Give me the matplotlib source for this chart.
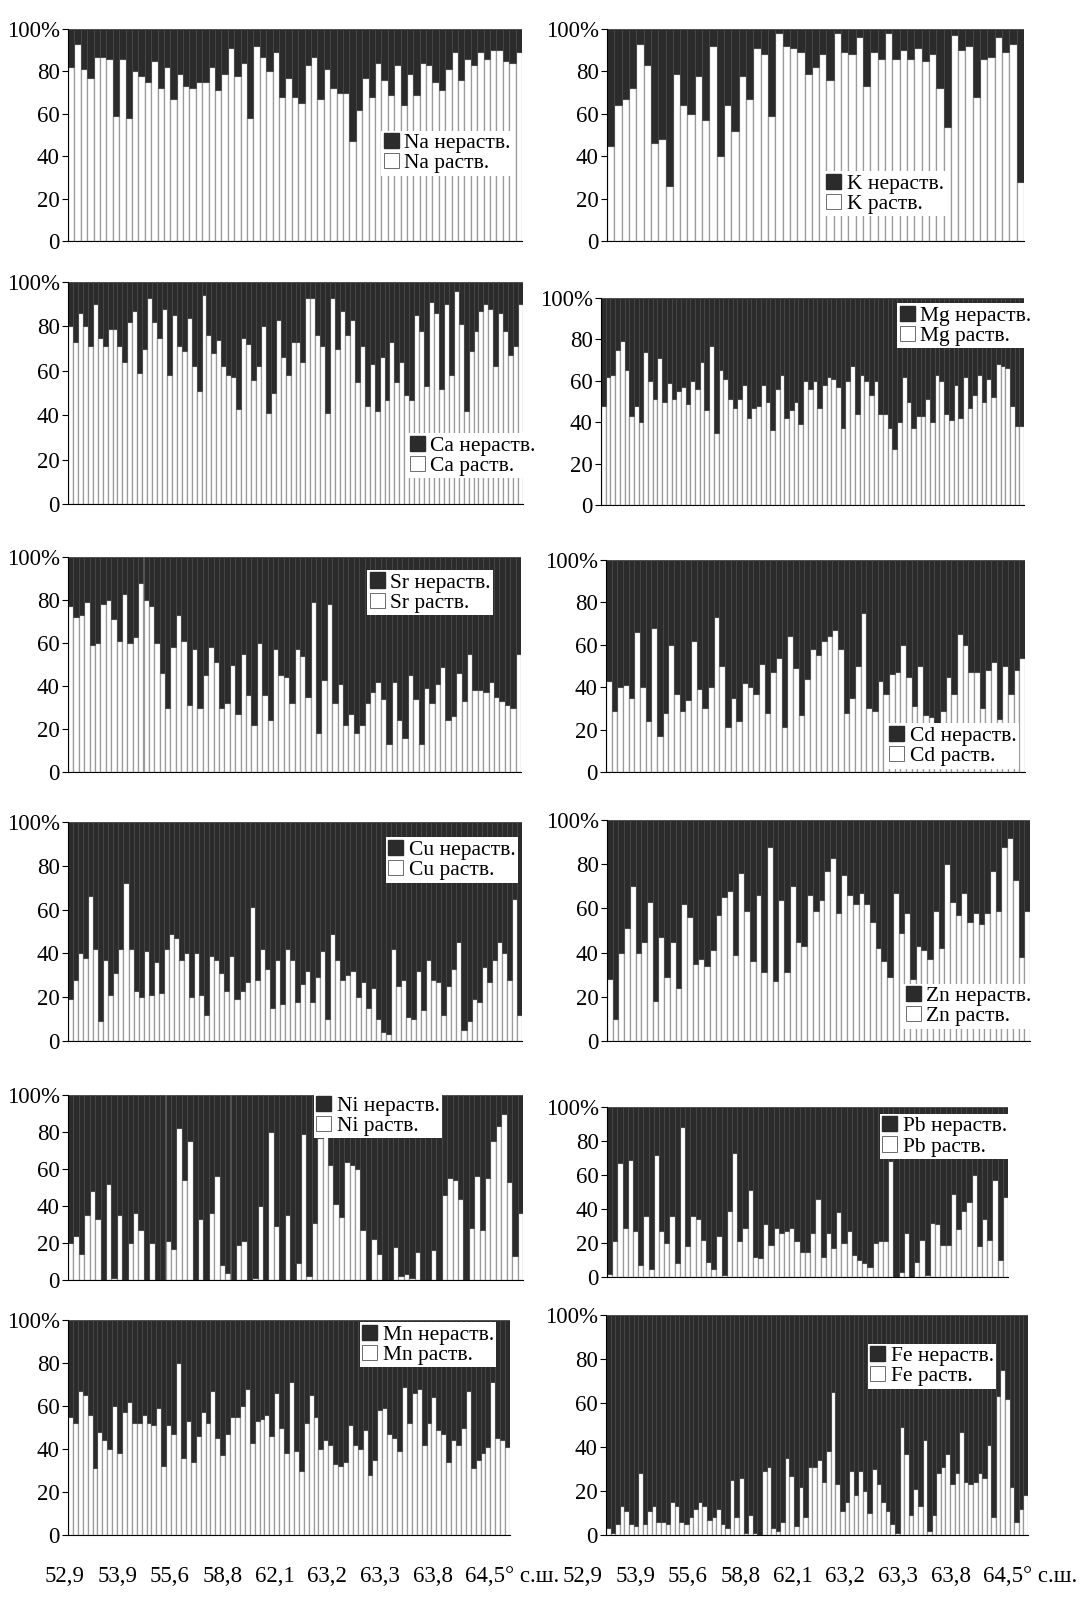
import numpy as np
import matplotlib
matplotlib.use('Agg')
import matplotlib.pyplot as plt
from matplotlib.patches import Patch

plt.rcParams['font.family'] = ['Liberation Serif', 'DejaVu Serif']

# soluble fraction, % of total (insoluble = remainder up to 100 %)
na_sol = [82, 93, 81, 77, 87, 87, 86, 59, 86, 58, 80, 78, 75, 85, 72, 82, 67, 79, 73, 72,
          75, 75, 82, 71, 79, 91, 78, 84, 58, 92, 87, 80, 89, 68, 77, 68, 65, 83, 87, 67,
          81, 72, 70, 70, 47, 62, 77, 68, 84, 76, 69, 83, 64, 79, 69, 84, 83, 75, 71, 81,
          89, 76, 86, 83, 89, 86, 90, 90, 85, 84, 89]
k_sol = [45, 64, 67, 72, 93, 83, 46, 48, 26, 79, 64, 60, 78, 57, 92, 40, 64, 52, 78, 67,
         91, 88, 59, 98, 92, 91, 89, 79, 82, 88, 76, 98, 89, 88, 96, 73, 89, 86, 98, 86,
         90, 86, 91, 85, 88, 72, 54, 97, 90, 92, 68, 86, 87, 96, 89, 93, 28]
ca_sol = [80, 73, 86, 80, 71, 90, 75, 71, 79, 79, 71, 64, 82, 87, 59, 70, 93, 82, 75, 88,
          58, 85, 71, 69, 84, 62, 51, 94, 76, 68, 74, 62, 58, 57, 43, 75, 72, 56, 62, 80,
          41, 50, 83, 66, 58, 73, 73, 64, 93, 93, 76, 71, 41, 93, 70, 87, 76, 83, 55, 71,
          44, 63, 42, 66, 47, 73, 55, 64, 49, 47, 85, 78, 53, 91, 86, 52, 90, 58, 96, 81,
          42, 69, 78, 87, 90, 88, 62, 86, 78, 67, 71, 90]
mg_sol = [48, 62, 63, 75, 79, 65, 43, 48, 40, 74, 60, 51, 71, 50, 59, 51, 55, 57, 49, 60,
          56, 69, 46, 77, 35, 65, 61, 51, 47, 51, 58, 42, 47, 48, 58, 50, 36, 56, 63, 42,
          46, 50, 39, 60, 56, 60, 47, 58, 62, 61, 57, 37, 60, 67, 44, 63, 60, 53, 60, 44,
          44, 37, 27, 40, 62, 50, 37, 43, 43, 51, 40, 63, 60, 44, 41, 58, 42, 62, 47, 53,
          63, 50, 61, 52, 68, 67, 66, 48, 38, 38]
sr_sol = [77, 72, 73, 79, 59, 60, 78, 80, 71, 61, 83, 60, 63, 88, 80, 77, 60, 46, 30, 58,
          73, 61, 31, 57, 30, 45, 58, 51, 30, 32, 50, 27, 55, 36, 22, 60, 36, 24, 57, 45,
          44, 32, 57, 54, 35, 79, 18, 43, 78, 32, 41, 22, 27, 18, 22, 32, 37, 42, 34, 13,
          42, 24, 16, 45, 34, 13, 39, 32, 41, 49, 24, 26, 46, 33, 55, 38, 38, 37, 42, 35,
          33, 31, 30, 55]
cd_sol = [43, 29, 40, 41, 35, 66, 40, 24, 68, 17, 28, 60, 37, 29, 34, 62, 39, 30, 40, 73,
          50, 21, 35, 24, 42, 40, 37, 51, 28, 47, 54, 21, 64, 49, 27, 44, 58, 55, 62, 64,
          67, 58, 28, 35, 50, 75, 30, 29, 43, 37, 46, 47, 60, 45, 31, 50, 27, 26, 23, 29,
          45, 37, 65, 60, 47, 47, 30, 48, 52, 25, 50, 37, 48, 54]
cu_sol = [19, 28, 40, 38, 66, 42, 9, 37, 21, 31, 42, 72, 42, 23, 20, 41, 21, 36, 22, 42,
          49, 47, 37, 40, 20, 40, 21, 12, 39, 37, 31, 23, 39, 19, 23, 27, 61, 28, 42, 33,
          15, 37, 17, 42, 37, 18, 26, 32, 18, 29, 41, 10, 49, 37, 28, 30, 32, 20, 27, 15,
          24, 10, 4, 3, 42, 25, 28, 11, 10, 32, 14, 37, 28, 27, 12, 25, 33, 45, 5, 9,
          19, 18, 34, 27, 37, 45, 40, 28, 65, 12]
zn_sol = [28, 10, 40, 51, 70, 40, 45, 63, 18, 47, 29, 45, 24, 62, 56, 35, 37, 34, 41, 57,
          65, 68, 39, 76, 59, 36, 66, 31, 88, 27, 64, 31, 70, 45, 43, 66, 59, 64, 77, 83,
          58, 75, 66, 62, 67, 62, 54, 42, 36, 29, 67, 49, 58, 28, 43, 41, 37, 59, 42, 80,
          63, 57, 67, 54, 58, 53, 58, 77, 59, 88, 92, 73, 38, 59]
ni_sol = [20, 24, 14, 35, 48, 33, 0, 52, 1, 35, 0, 20, 36, 27, 0, 20, 0, 0, 21, 17,
          82, 54, 75, 0, 33, 0, 36, 56, 8, 4, 0, 19, 21, 0, 1, 40, 0, 80, 29, 0,
          35, 0, 9, 79, 2, 31, 77, 78, 62, 41, 34, 64, 62, 60, 27, 0, 22, 14, 0, 0,
          18, 2, 3, 1, 15, 0, 0, 16, 0, 46, 55, 54, 44, 0, 28, 56, 27, 55, 75, 83,
          90, 53, 13, 36]
pb_sol = [2, 21, 67, 29, 69, 27, 7, 36, 5, 72, 27, 20, 36, 8, 88, 18, 36, 34, 22, 9,
          5, 24, 1, 39, 73, 21, 29, 51, 12, 11, 31, 19, 29, 26, 27, 29, 21, 15, 15, 26,
          46, 12, 26, 17, 38, 20, 27, 13, 10, 8, 6, 20, 21, 21, 68, 0, 3, 26, 0, 9,
          22, 1, 32, 31, 19, 19, 49, 28, 39, 44, 60, 18, 34, 22, 57, 10, 47]
mn_sol = [55, 52, 67, 65, 56, 31, 48, 44, 40, 60, 38, 57, 62, 52, 52, 56, 52, 51, 59, 32,
          51, 47, 80, 36, 53, 34, 46, 57, 52, 67, 45, 37, 47, 55, 55, 60, 68, 43, 53, 54,
          56, 46, 66, 50, 38, 71, 39, 30, 52, 65, 55, 40, 44, 42, 33, 32, 34, 51, 42, 40,
          49, 28, 35, 58, 59, 47, 45, 39, 69, 52, 66, 68, 42, 52, 64, 49, 47, 34, 44, 42,
          50, 67, 31, 35, 38, 41, 71, 45, 44, 41]
fe_sol = [3, 1, 5, 13, 11, 5, 4, 28, 5, 11, 13, 6, 6, 5, 15, 13, 6, 5, 8, 12,
          15, 13, 7, 8, 12, 5, 3, 25, 8, 26, 1, 9, 1, 0, 29, 31, 3, 2, 6, 35,
          27, 4, 22, 8, 31, 31, 34, 24, 38, 65, 23, 11, 15, 29, 18, 29, 20, 10, 30, 23,
          15, 11, 5, 1, 49, 37, 9, 21, 13, 43, 2, 9, 28, 31, 37, 23, 28, 47, 24, 23,
          24, 28, 26, 41, 8, 63, 75, 62, 22, 6, 12, 18]

y_ticks = [0, 20, 40, 60, 80, 100]
y_labels = ['0', '20', '40', '60', '80', '100%']
lat_labels = ['52,9', '53,9', '55,6', '58,8', '62,1', '63,2', '63,3', '63,8', '64,5° с.ш.']

W, H = 1089, 1618
fig = plt.figure(figsize=(W / 100, H / 100), dpi=100)


def px_axes(x0, x1, top, bottom):
    return fig.add_axes([x0 / W, 1 - bottom / H, (x1 - x0) / W, (bottom - top) / H])


# (element, data, axes box in px, legend anchor in axes fraction)
panels = [
    ('Na', na_sol, (68, 522, 29, 241), (0.69, 0.52)),
    ('K', k_sol, (607, 1024, 29, 241), (0.52, 0.33)),
    ('Ca', ca_sol, (68, 523, 282, 504), (0.745, 0.32)),
    ('Mg', mg_sol, (601, 1024, 298, 505), (0.70, 0.975)),
    ('Sr', sr_sol, (68, 521, 557, 772), (0.66, 0.94)),
    ('Cd', cd_sol, (606, 1025, 560, 772), (0.67, 0.23)),
    ('Cu', cu_sol, (68, 522, 822, 1041), (0.70, 0.93)),
    ('Zn', zn_sol, (607, 1030, 820, 1041), (0.70, 0.26)),
    ('Ni', ni_sol, (68, 523, 1095, 1280), (0.54, 1.01)),
    ('Pb', pb_sol, (607, 1008, 1107, 1277), (0.68, 0.96)),
    ('Mn', mn_sol, (68, 510, 1320, 1535), (0.66, 0.99)),
    ('Fe', fe_sol, (606, 1028, 1315, 1535), (0.62, 0.87)),
]

for el, sol, box, anchor in panels:
    ax = px_axes(*box)
    sol = np.array(sol, dtype=float)
    x = np.arange(len(sol))
    ax.bar(x, sol, width=1.0, color='white', edgecolor='#9a9a9a', linewidth=0.9)
    ax.bar(x, 100 - sol, bottom=sol, width=1.0, color='#2b2b2b',
           edgecolor='#474747', linewidth=0.6)
    ax.set_xlim(-0.5, len(sol) - 0.5)
    ax.set_ylim(0, 100)
    ax.set_yticks(y_ticks)
    ax.set_yticklabels(y_labels, fontsize=16.5)
    ax.set_xticks([])
    ax.tick_params(axis='y', length=4, width=0.8, pad=2)
    for s in ['top', 'right']:
        ax.spines[s].set_visible(False)
    ax.spines['left'].set_linewidth(0.8)
    ax.spines['bottom'].set_linewidth(0.8)
    handles = [Patch(facecolor='#2b2b2b', edgecolor='#2b2b2b', label=el + ' нераств.'),
               Patch(facecolor='white', edgecolor='#555555', linewidth=0.6, label=el + ' раств.')]
    leg = ax.legend(handles=handles, loc='upper left', bbox_to_anchor=anchor,
                    fontsize=15.5, frameon=True, fancybox=False, framealpha=1,
                    edgecolor='white', facecolor='white', borderpad=0.12,
                    handlelength=0.7, handleheight=0.7, handletextpad=0.25,
                    labelspacing=0.0, borderaxespad=0)
    leg.get_frame().set_linewidth(0)

# latitude labels under the bottom row
for start, step in [(45, 52.5), (563, 52.5)]:
    for k, lab in enumerate(lat_labels):
        fig.text((start + k * step) / W, 1 - 1577 / H, lab, ha='left', va='center',
                 fontsize=16.5)

fig.savefig('out.png', dpi=100)
